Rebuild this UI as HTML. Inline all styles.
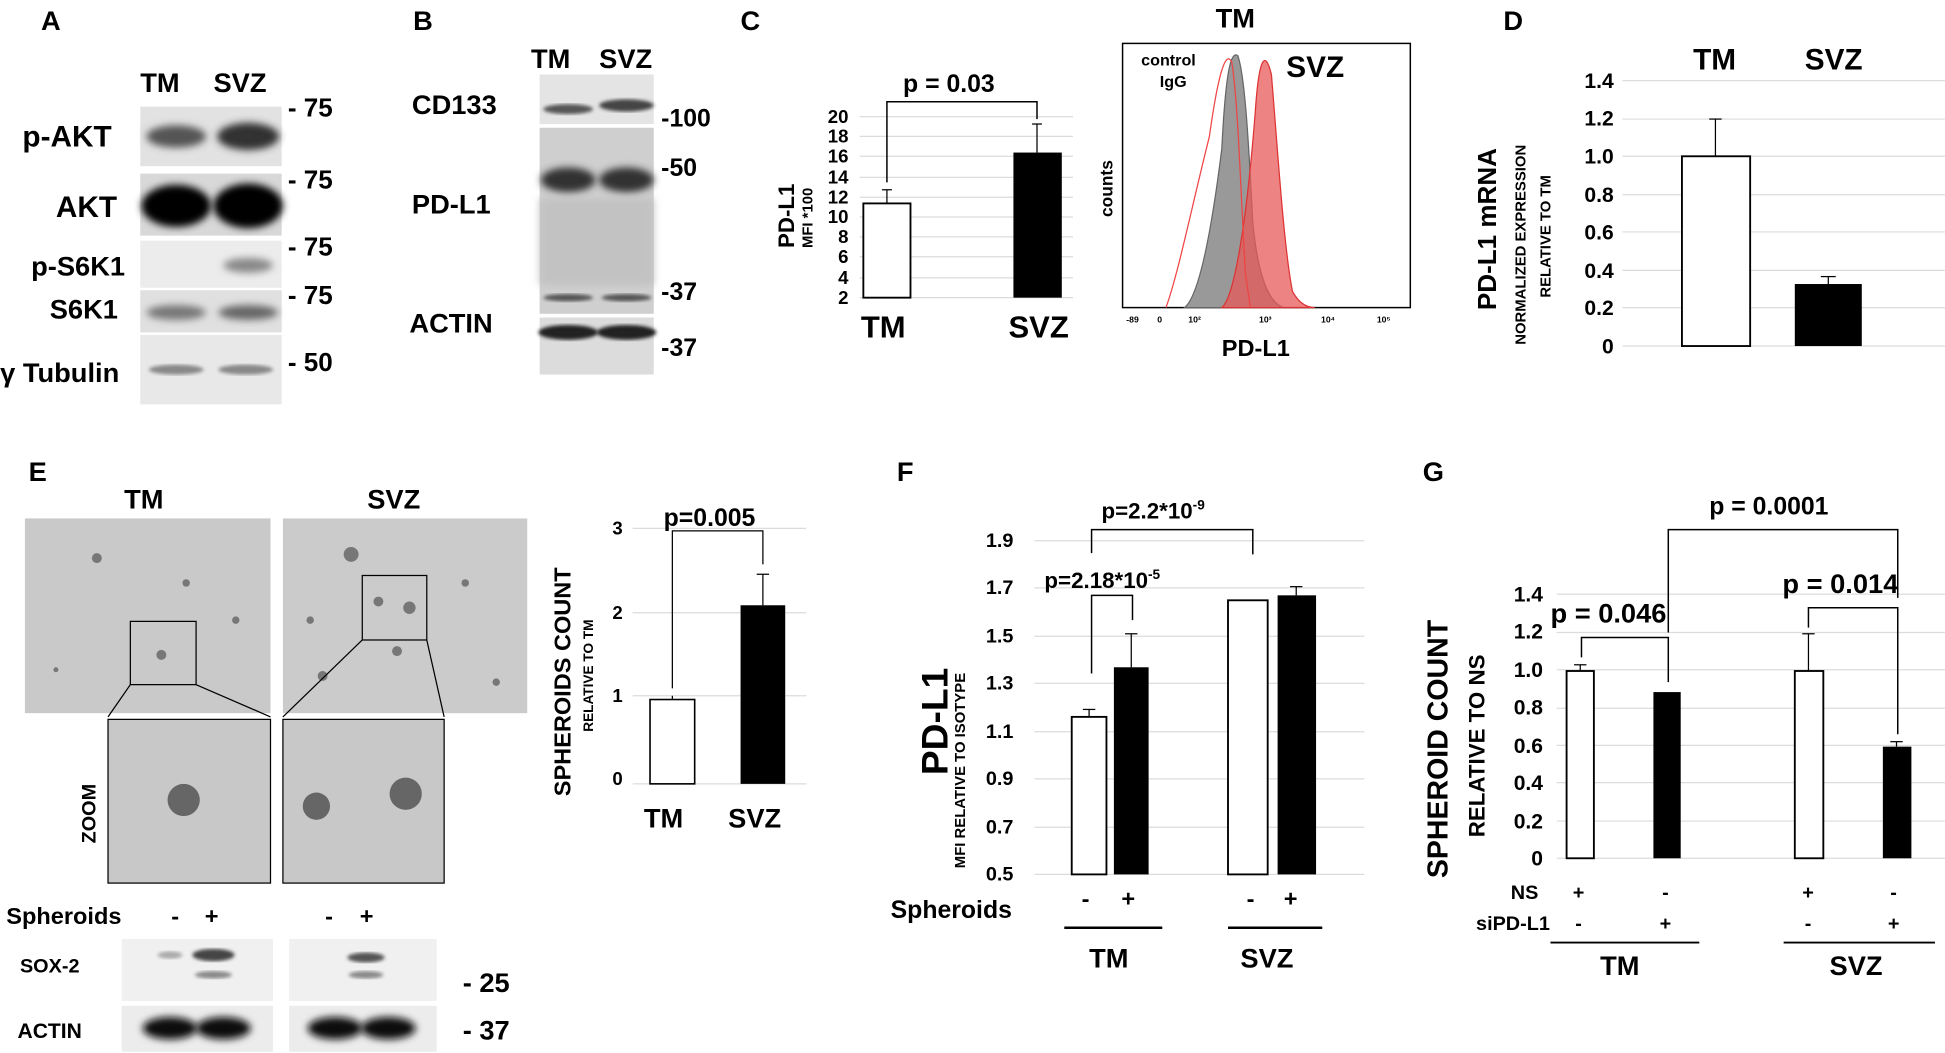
<!DOCTYPE html>
<html><head><meta charset="utf-8"><style>
html,body{margin:0;padding:0;background:#fff;}
svg{display:block;}
text{font-family:"Liberation Sans",Arial,sans-serif;font-weight:bold;fill:#000;}
.g{stroke:#dcdcdc;stroke-width:1;}
</style></head><body>
<svg width="1945" height="1053" viewBox="0 0 1568 849" xmlns="http://www.w3.org/2000/svg">
<defs>
<filter id="b2" x="-20%" y="-50%" width="140%" height="200%"><feGaussianBlur stdDeviation="3"/></filter>
<filter id="b1"><feGaussianBlur stdDeviation="1.5"/></filter>
</defs>
<rect width="1568" height="849" fill="#fff"/>

<!-- Panel A -->
<text x="33" y="24" font-size="22">A</text>
<text x="113" y="74" font-size="22">TM</text><text x="172" y="74" font-size="22">SVZ</text>
<rect x="113" y="86" width="114" height="48" fill="#e2e2e2"/>
<ellipse cx="142" cy="110" rx="24" ry="9" fill="#555" filter="url(#b2)"/>
<ellipse cx="200" cy="110" rx="25" ry="11" fill="#333" filter="url(#b2)"/>
<rect x="113" y="140" width="114" height="50" fill="#d8d8d8"/>
<ellipse cx="142" cy="166" rx="28" ry="17" fill="#000" filter="url(#b2)"/>
<ellipse cx="200" cy="166" rx="28" ry="18" fill="#000" filter="url(#b2)"/>
<rect x="113" y="194" width="114" height="38" fill="#ececec"/>
<ellipse cx="200" cy="214" rx="20" ry="6" fill="#888" filter="url(#b2)"/>
<rect x="113" y="234" width="114" height="34" fill="#e0e0e0"/>
<ellipse cx="142" cy="252" rx="24" ry="6" fill="#777" filter="url(#b2)"/>
<ellipse cx="200" cy="252" rx="24" ry="6" fill="#666" filter="url(#b2)"/>
<rect x="113" y="270" width="114" height="56" fill="#e8e8e8"/>
<ellipse cx="142" cy="298" rx="22" ry="4" fill="#888" filter="url(#b1)"/>
<ellipse cx="198" cy="298" rx="22" ry="4" fill="#888" filter="url(#b1)"/>
<text x="18" y="118" font-size="24">p-AKT</text>
<text x="45" y="175" font-size="24">AKT</text>
<text x="25" y="222" font-size="22">p-S6K1</text>
<text x="40" y="257" font-size="22">S6K1</text>
<text x="0" y="308" font-size="22">γ Tubulin</text>
<g font-size="21"><text x="232" y="94">- 75</text><text x="232" y="152">- 75</text><text x="232" y="206">- 75</text><text x="232" y="245">- 75</text><text x="232" y="299">- 50</text></g>

<!-- Panel B -->
<text x="333" y="24" font-size="22">B</text>
<text x="428" y="55" font-size="22">TM</text><text x="483" y="55" font-size="22">SVZ</text>
<rect x="435" y="60" width="92" height="40" fill="#e4e4e4"/>
<ellipse cx="458" cy="88" rx="20" ry="4" fill="#555" filter="url(#b1)"/>
<ellipse cx="505" cy="85" rx="22" ry="5" fill="#444" filter="url(#b1)"/>
<rect x="435" y="103" width="92" height="150" fill="#cfcfcf"/>
<ellipse cx="458" cy="145" rx="22" ry="10" fill="#333" filter="url(#b2)"/>
<ellipse cx="505" cy="145" rx="22" ry="10" fill="#333" filter="url(#b2)"/>
<rect x="435" y="160" width="92" height="70" fill="#c2c2c2" filter="url(#b2)"/>
<ellipse cx="458" cy="240" rx="20" ry="3" fill="#555" filter="url(#b1)"/>
<ellipse cx="505" cy="240" rx="20" ry="3" fill="#555" filter="url(#b1)"/>
<rect x="435" y="256" width="92" height="46" fill="#dcdcdc"/>
<ellipse cx="458" cy="268" rx="24" ry="6" fill="#222" filter="url(#b1)"/>
<ellipse cx="505" cy="268" rx="24" ry="6" fill="#222" filter="url(#b1)"/>
<text x="332" y="92" font-size="22">CD133</text>
<text x="332" y="172" font-size="22">PD-L1</text>
<text x="330" y="268" font-size="22">ACTIN</text>
<g font-size="20"><text x="533" y="102">-100</text><text x="533" y="142">-50</text><text x="533" y="242">-37</text><text x="533" y="287">-37</text></g>

<!-- Panel C bar -->
<text x="597" y="24" font-size="22">C</text>
<g class="g">
<line x1="693" y1="94" x2="865" y2="94"/><line x1="693" y1="110" x2="865" y2="110"/><line x1="693" y1="126" x2="865" y2="126"/><line x1="693" y1="143" x2="865" y2="143"/><line x1="693" y1="159" x2="865" y2="159"/><line x1="693" y1="175" x2="865" y2="175"/><line x1="693" y1="191" x2="865" y2="191"/><line x1="693" y1="207" x2="865" y2="207"/><line x1="693" y1="224" x2="865" y2="224"/><line x1="693" y1="240" x2="865" y2="240"/>
</g>
<g font-size="15" text-anchor="end">
<text x="684" y="99">20</text><text x="684" y="115">18</text><text x="684" y="131">16</text><text x="684" y="148">14</text><text x="684" y="164">12</text><text x="684" y="180">10</text><text x="684" y="196">8</text><text x="684" y="212">6</text><text x="684" y="229">4</text><text x="684" y="245">2</text>
</g>
<rect x="696" y="164" width="38" height="76" fill="#fff" stroke="#000" stroke-width="1.5"/>
<line x1="715" y1="164" x2="715" y2="153" stroke="#000"/><line x1="711" y1="153" x2="719" y2="153" stroke="#000"/>
<rect x="817" y="123" width="39" height="117" fill="#000"/>
<line x1="836" y1="123" x2="836" y2="100" stroke="#000"/><line x1="832" y1="100" x2="840" y2="100" stroke="#000"/>
<path d="M715 147 V82 H836 V96" fill="none" stroke="#000" stroke-width="1.2"/>
<text x="728" y="74" font-size="20">p = 0.03</text>
<text x="694" y="272" font-size="25">TM</text><text x="813" y="272" font-size="25">SVZ</text>
<text transform="translate(640,200) rotate(-90)" font-size="18">PD-L1</text>
<text transform="translate(655,200) rotate(-90)" font-size="12">MFI *100</text>

<!-- Panel C histogram -->
<text x="980" y="22" font-size="22">TM</text>
<rect x="905" y="35" width="232" height="213" fill="#fff" stroke="#000" stroke-width="1.2"/>
<path d="M955 248 C965 240 975 200 985 120 C988 60 992 40 998 45 C1003 60 1006 100 1010 180 C1015 230 1025 245 1035 248 Z" fill="#999" stroke="#666"/>
<path d="M985 248 C995 240 1005 180 1012 90 C1015 45 1020 40 1025 60 C1030 120 1035 200 1042 235 C1048 246 1055 248 1060 248 Z" fill="#e85a5a" fill-opacity="0.75" stroke="#d33"/>
<path d="M940 248 C950 220 960 170 975 110 C982 60 988 40 993 50 C998 80 1000 150 1004 220 L1008 248" fill="none" stroke="#e44" stroke-width="1"/>
<text x="920" y="53" font-size="13">control</text><text x="935" y="70" font-size="13">IgG</text>
<text x="1037" y="62" font-size="24">SVZ</text>
<text transform="translate(897,175) rotate(-90)" font-size="14">counts</text>
<g font-size="7" font-weight="normal"><text x="908" y="260">-89</text><text x="933" y="260">0</text><text x="958" y="260">10²</text><text x="1015" y="260">10³</text><text x="1065" y="260">10⁴</text><text x="1110" y="260">10⁵</text></g>
<text x="985" y="287" font-size="19">PD-L1</text>

<!-- Panel D -->
<text x="1212" y="24" font-size="22">D</text>
<text x="1365" y="56" font-size="24">TM</text><text x="1455" y="56" font-size="24">SVZ</text>
<g class="g">
<line x1="1308" y1="65" x2="1568" y2="65"/><line x1="1308" y1="96" x2="1568" y2="96"/><line x1="1308" y1="126" x2="1568" y2="126"/><line x1="1308" y1="157" x2="1568" y2="157"/><line x1="1308" y1="187" x2="1568" y2="187"/><line x1="1308" y1="218" x2="1568" y2="218"/><line x1="1308" y1="248" x2="1568" y2="248"/><line x1="1308" y1="279" x2="1568" y2="279"/>
</g>
<g font-size="17" text-anchor="end">
<text x="1301" y="71">1.4</text><text x="1301" y="101">1.2</text><text x="1301" y="132">1.0</text><text x="1301" y="163">0.8</text><text x="1301" y="193">0.6</text><text x="1301" y="224">0.4</text><text x="1301" y="254">0.2</text><text x="1301" y="285">0</text>
</g>
<rect x="1356" y="126" width="55" height="153" fill="#fff" stroke="#000" stroke-width="1.5"/>
<line x1="1383" y1="126" x2="1383" y2="96" stroke="#000"/><line x1="1378" y1="96" x2="1388" y2="96" stroke="#000"/>
<rect x="1447" y="229" width="54" height="50" fill="#000"/>
<line x1="1474" y1="229" x2="1474" y2="223" stroke="#000"/><line x1="1468" y1="223" x2="1480" y2="223" stroke="#000"/>
<text transform="translate(1206,250) rotate(-90)" font-size="21">PD-L1 mRNA</text>
<text transform="translate(1230,278) rotate(-90)" font-size="12">NORMALIZED EXPRESSION</text>
<text transform="translate(1250,240) rotate(-90)" font-size="12">RELATIVE TO TM</text>

<!-- Panel E -->
<text x="23" y="388" font-size="22">E</text>
<text x="100" y="410" font-size="22">TM</text><text x="296" y="410" font-size="22">SVZ</text>
<rect x="20" y="418" width="198" height="157" fill="#c9c9c9"/>
<rect x="228" y="418" width="197" height="157" fill="#cbcbcb"/>
<g fill="#777"><circle cx="78" cy="450" r="4"/><circle cx="130" cy="528" r="4"/><circle cx="150" cy="470" r="3"/><circle cx="45" cy="540" r="2"/><circle cx="190" cy="500" r="3"/>
<circle cx="283" cy="447" r="6"/><circle cx="330" cy="490" r="5"/><circle cx="305" cy="485" r="4"/><circle cx="260" cy="545" r="4"/><circle cx="320" cy="525" r="4"/><circle cx="375" cy="470" r="3"/><circle cx="250" cy="500" r="3"/><circle cx="400" cy="550" r="3"/></g>
<rect x="105" y="501" width="53" height="51" fill="none" stroke="#000"/>
<rect x="292" y="464" width="52" height="52" fill="none" stroke="#000"/>
<path d="M105 552 L87 578 M158 552 L218 578 M292 516 L228 578 M344 516 L358 578" stroke="#000"/>
<rect x="87" y="580" width="131" height="132" fill="#c8c8c8" stroke="#000"/>
<rect x="228" y="580" width="130" height="132" fill="#c8c8c8" stroke="#000"/>
<circle cx="148" cy="645" r="13" fill="#666"/><circle cx="255" cy="650" r="11" fill="#666"/><circle cx="327" cy="640" r="13" fill="#666"/>
<text transform="translate(77,680) rotate(-90)" font-size="16">ZOOM</text>
<text x="5" y="745" font-size="19">Spheroids</text>
<g font-size="19"><text x="138" y="745">-</text><text x="165" y="745">+</text><text x="262" y="745">-</text><text x="290" y="745">+</text></g>
<rect x="98" y="757" width="122" height="50" fill="#f0f0f0"/>
<ellipse cx="137" cy="770" rx="10" ry="3" fill="#aaa" filter="url(#b1)"/>
<ellipse cx="172" cy="770" rx="17" ry="5" fill="#444" filter="url(#b1)"/>
<ellipse cx="172" cy="786" rx="15" ry="3" fill="#888" filter="url(#b1)"/>
<rect x="233" y="757" width="119" height="50" fill="#f0f0f0"/>
<ellipse cx="295" cy="772" rx="15" ry="4" fill="#555" filter="url(#b1)"/>
<ellipse cx="295" cy="786" rx="14" ry="3" fill="#888" filter="url(#b1)"/>
<rect x="98" y="811" width="122" height="37" fill="#ececec"/>
<ellipse cx="137" cy="829" rx="22" ry="9" fill="#111" filter="url(#b2)"/>
<ellipse cx="180" cy="829" rx="22" ry="9" fill="#111" filter="url(#b2)"/>
<rect x="233" y="811" width="119" height="37" fill="#ececec"/>
<ellipse cx="270" cy="829" rx="22" ry="9" fill="#111" filter="url(#b2)"/>
<ellipse cx="313" cy="829" rx="22" ry="9" fill="#111" filter="url(#b2)"/>
<text x="16" y="784" font-size="16">SOX-2</text>
<text x="14" y="837" font-size="17">ACTIN</text>
<text x="373" y="800" font-size="22">- 25</text><text x="373" y="838" font-size="22">- 37</text>

<!-- Panel E chart -->
<g class="g"><line x1="510" y1="426" x2="650" y2="426"/><line x1="510" y1="494" x2="650" y2="494"/><line x1="510" y1="561" x2="650" y2="561"/><line x1="510" y1="632" x2="650" y2="632"/></g>
<g font-size="15" text-anchor="end"><text x="502" y="431">3</text><text x="502" y="499">2</text><text x="502" y="566">1</text><text x="502" y="633">0</text></g>
<rect x="524" y="564" width="36" height="68" fill="#fff" stroke="#000" stroke-width="1.3"/>
<line x1="542" y1="564" x2="542" y2="561" stroke="#000"/>
<rect x="597" y="488" width="36" height="144" fill="#000"/>
<line x1="615" y1="488" x2="615" y2="463" stroke="#000"/><line x1="610" y1="463" x2="620" y2="463" stroke="#000"/>
<path d="M542 555 V428 H615 V455" fill="none" stroke="#000"/>
<text x="535" y="424" font-size="20">p=0.005</text>
<text x="519" y="667" font-size="22">TM</text><text x="587" y="667" font-size="22">SVZ</text>
<text transform="translate(460,642) rotate(-90)" font-size="19">SPHEROIDS COUNT</text>
<text transform="translate(478,590) rotate(-90)" font-size="11">RELATIVE TO TM</text>

<!-- Panel F -->
<text x="723" y="388" font-size="22">F</text>
<g class="g">
<line x1="834" y1="436" x2="1100" y2="436"/><line x1="834" y1="474" x2="1100" y2="474"/><line x1="834" y1="513" x2="1100" y2="513"/><line x1="834" y1="551" x2="1100" y2="551"/><line x1="834" y1="590" x2="1100" y2="590"/><line x1="834" y1="628" x2="1100" y2="628"/><line x1="834" y1="667" x2="1100" y2="667"/><line x1="834" y1="705" x2="1100" y2="705"/>
</g>
<g font-size="16" text-anchor="end">
<text x="817" y="441">1.9</text><text x="817" y="479">1.7</text><text x="817" y="518">1.5</text><text x="817" y="556">1.3</text><text x="817" y="595">1.1</text><text x="817" y="633">0.9</text><text x="817" y="672">0.7</text><text x="817" y="710">0.5</text>
</g>
<rect x="864" y="578" width="28" height="127" fill="#fff" stroke="#000" stroke-width="1.5"/>
<line x1="878" y1="578" x2="878" y2="572" stroke="#000"/><line x1="873" y1="572" x2="883" y2="572" stroke="#000"/>
<rect x="898" y="538" width="28" height="167" fill="#000"/>
<line x1="912" y1="538" x2="912" y2="511" stroke="#000"/><line x1="907" y1="511" x2="917" y2="511" stroke="#000"/>
<rect x="990" y="484" width="32" height="221" fill="#fff" stroke="#000" stroke-width="1.5"/>
<rect x="1030" y="480" width="31" height="225" fill="#000"/>
<line x1="1045" y1="480" x2="1045" y2="473" stroke="#000"/><line x1="1040" y1="473" x2="1050" y2="473" stroke="#000"/>
<path d="M880 446 V427 H1010 V447" fill="none" stroke="#000" stroke-width="1.2"/>
<path d="M880 543 V480 H913 V500" fill="none" stroke="#000" stroke-width="1.2"/>
<text x="888" y="418" font-size="18">p=2.2*10<tspan font-size="11" dy="-7">-9</tspan></text>
<text x="842" y="474" font-size="18">p=2.18*10<tspan font-size="11" dy="-7">-5</tspan></text>
<text x="718" y="740" font-size="20">Spheroids</text>
<g font-size="19"><text x="872" y="731">-</text><text x="904" y="731">+</text><text x="1005" y="731">-</text><text x="1035" y="731">+</text></g>
<line x1="858" y1="748" x2="937" y2="748" stroke="#000" stroke-width="2"/>
<line x1="990" y1="748" x2="1066" y2="748" stroke="#000" stroke-width="2"/>
<text x="878" y="780" font-size="22">TM</text><text x="1000" y="780" font-size="22">SVZ</text>
<text transform="translate(764,625) rotate(-90)" font-size="30">PD-L1</text>
<text transform="translate(778,700) rotate(-90)" font-size="12">MFI RELATIVE TO ISOTYPE</text>

<!-- Panel G -->
<text x="1147" y="388" font-size="22">G</text>
<g class="g">
<line x1="1255" y1="479" x2="1568" y2="479"/><line x1="1255" y1="510" x2="1568" y2="510"/><line x1="1255" y1="540" x2="1568" y2="540"/><line x1="1255" y1="571" x2="1568" y2="571"/><line x1="1255" y1="601" x2="1568" y2="601"/><line x1="1255" y1="631" x2="1568" y2="631"/><line x1="1255" y1="662" x2="1568" y2="662"/><line x1="1255" y1="692" x2="1568" y2="692"/>
</g>
<g font-size="17" text-anchor="end">
<text x="1244" y="485">1.4</text><text x="1244" y="515">1.2</text><text x="1244" y="546">1.0</text><text x="1244" y="576">0.8</text><text x="1244" y="607">0.6</text><text x="1244" y="637">0.4</text><text x="1244" y="668">0.2</text><text x="1244" y="698">0</text>
</g>
<rect x="1263" y="541" width="22" height="151" fill="#fff" stroke="#000" stroke-width="1.5"/>
<line x1="1274" y1="541" x2="1274" y2="536" stroke="#000"/><line x1="1269" y1="536" x2="1279" y2="536" stroke="#000"/>
<rect x="1333" y="558" width="22" height="134" fill="#000"/>
<rect x="1447" y="541" width="23" height="151" fill="#fff" stroke="#000" stroke-width="1.5"/>
<line x1="1458" y1="541" x2="1458" y2="511" stroke="#000"/><line x1="1453" y1="511" x2="1463" y2="511" stroke="#000"/>
<rect x="1518" y="602" width="23" height="90" fill="#000"/>
<line x1="1529" y1="602" x2="1529" y2="598" stroke="#000"/><line x1="1524" y1="598" x2="1534" y2="598" stroke="#000"/>
<path d="M1275 530 V514 H1345 V550" fill="none" stroke="#000" stroke-width="1.2"/>
<path d="M1458 506 V490 H1530 V592" fill="none" stroke="#000" stroke-width="1.2"/>
<path d="M1345 510 V427 H1530 V482" fill="none" stroke="#000" stroke-width="1.2"/>
<text x="1250" y="502" font-size="22">p = 0.046</text>
<text x="1437" y="478" font-size="22">p = 0.014</text>
<text x="1378" y="415" font-size="20">p = 0.0001</text>
<g font-size="16"><text x="1218" y="725">NS</text><text x="1190" y="750">siPD-L1</text>
<text x="1268" y="725">+</text><text x="1340" y="725">-</text><text x="1453" y="725">+</text><text x="1524" y="725">-</text>
<text x="1270" y="750">-</text><text x="1338" y="750">+</text><text x="1455" y="750">-</text><text x="1522" y="750">+</text></g>
<line x1="1250" y1="760" x2="1370" y2="760" stroke="#000" stroke-width="1.5"/>
<line x1="1438" y1="760" x2="1560" y2="760" stroke="#000" stroke-width="1.5"/>
<text x="1290" y="786" font-size="22">TM</text><text x="1475" y="786" font-size="22">SVZ</text>
<text transform="translate(1167,708) rotate(-90)" font-size="23">SPHEROID  COUNT</text>
<text transform="translate(1197,675) rotate(-90)" font-size="18">RELATIVE TO NS</text>
</svg>
</body></html>
